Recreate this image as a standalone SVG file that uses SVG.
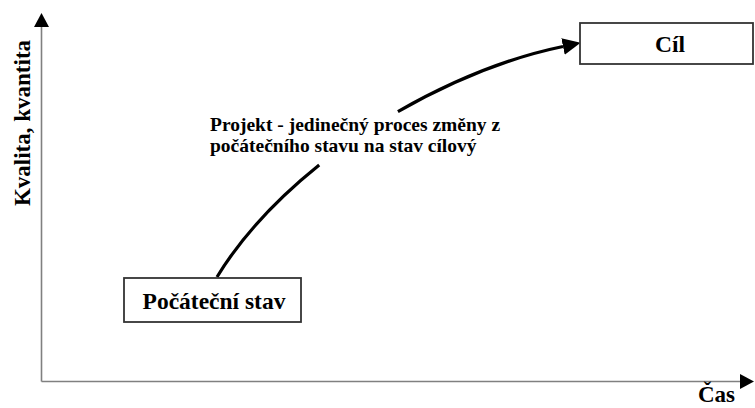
<svg xmlns="http://www.w3.org/2000/svg" width="755" height="408" viewBox="0 0 755 408">
<style>
  .t{font-family:'Liberation Serif','DejaVu Serif',serif;font-weight:bold;fill:#000}
  .axis{stroke:#808080;stroke-width:1.6;fill:none}
  .box{fill:#fff;stroke:#333;stroke-width:1.8}
  .flow{stroke:#000;stroke-width:3.2;fill:none}
</style>
<defs>
  <marker id="ax" markerUnits="userSpaceOnUse" markerWidth="16" markerHeight="16" refX="0" refY="7.5" orient="auto">
    <path d="M0,0 L14,7.5 L0,15 z" fill="#000"/>
  </marker>
  <marker id="fa" markerUnits="userSpaceOnUse" markerWidth="20" markerHeight="18" refX="0" refY="8.5" orient="auto">
    <path d="M0,0 L18,8.5 L0,17 z" fill="#000"/>
  </marker>
</defs>
<g id="axes">
  <path class="axis" d="M41.5,381.5 L41.5,27" marker-end="url(#ax)"/>
  <path class="axis" d="M41.5,381.5 L740,381.5" marker-end="url(#ax)"/>
  <text class="t" font-size="23" text-anchor="middle" transform="translate(30,123) rotate(-90)">Kvalita, kvantita</text>
  <text class="t" font-size="23" x="698" y="402">Čas</text>
</g>
<g id="connectors">
  <path class="flow" d="M217,277 C238.7,241.3 273.4,201.8 319.2,165"/>
  <path class="flow" d="M397.9,111.6 C450.4,81.7 505,58.5 563,46.5" marker-end="url(#fa)"/>
  <text class="t" font-size="19.5" x="210" y="131">Projekt - jedinečný proces změny z</text>
  <text class="t" font-size="19.5" x="210" y="152">počátečního stavu na stav cílový</text>
</g>
<g id="start">
  <rect class="box" x="124" y="278" width="177" height="44"/>
  <text class="t" font-size="23.5" x="214" y="309" text-anchor="middle">Počáteční stav</text>
</g>
<g id="goal">
  <rect class="box" x="580" y="23" width="173" height="41"/>
  <text class="t" font-size="23.5" x="670" y="51.5" text-anchor="middle">Cíl</text>
</g>
</svg>
